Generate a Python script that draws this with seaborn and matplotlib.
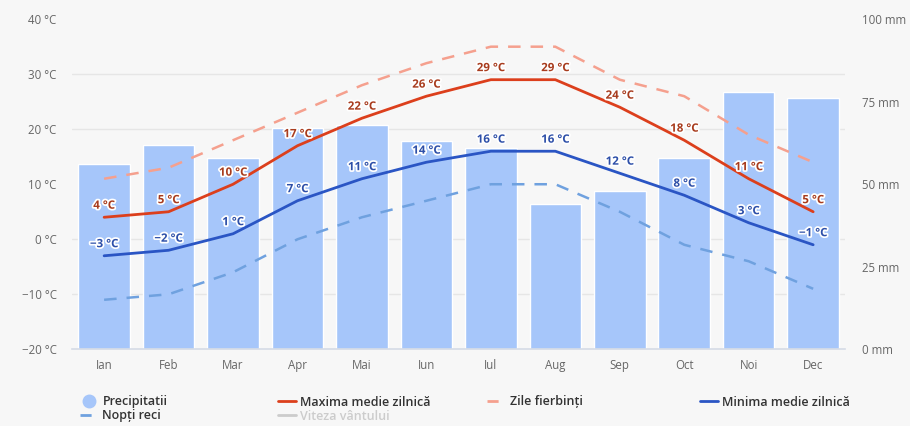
import numpy as np
import pandas as pd
import seaborn as sns
import matplotlib.pyplot as plt
from matplotlib.lines import Line2D
from matplotlib.ticker import FixedLocator

# data
months = ['Ian', 'Feb', 'Mar', 'Apr', 'Mai', 'Iun', 'Iul', 'Aug', 'Sep', 'Oct', 'Noi', 'Dec']
precip_mm = [56, 62, 58, 67, 68, 63, 61, 44, 48, 58, 78, 76]
temp_max = [4, 5, 10, 17, 22, 26, 29, 29, 24, 18, 11, 5]
temp_min = [-3, -2, 1, 7, 11, 14, 16, 16, 12, 8, 3, -1]
hot_days = [11, 13, 18, 23, 28, 32, 35, 35, 29, 26, 19, 14]
cold_nights = [-11, -10, -6, 0, 4, 7, 10, 10, 5, -1, -4, -9]
temp_ticks = [-20, -10, 0, 10, 20, 30, 40]
mm_ticks = [0, 25, 50, 75, 100]

BG = '#f7f7f7'
BAR = '#a6c6fa'
RED = '#dc3f1c'
BLUE = '#2a55c4'
SALMON = '#f5a08e'
LBLUE = '#6fa1df'
GREY = '#666666'

sns.set_style('white')
plt.rcParams['font.family'] = ['Open Sans', 'DejaVu Sans']

df = pd.DataFrame({'month': months, 'pos': np.arange(len(months)),
                   'precip': precip_mm, 'tmax': temp_max, 'tmin': temp_min,
                   'hot': hot_days, 'cold': cold_nights})

fig = plt.figure(figsize=(9.1, 4.26), dpi=100, facecolor=BG)
ax = fig.add_axes([0.079, 0.18, 0.85, 0.775])
ax2 = ax.twinx()
ax2.set_zorder(ax.get_zorder() - 1)
ax.patch.set_visible(False)
ax2.patch.set_visible(False)

# precipitation bars on the mm axis (behind)
sns.barplot(data=df, x='pos', y='precip', ax=ax2, color=BAR, width=0.8,
            saturation=1, zorder=2)
ax2.set_ylim(0, 100)
ax2.yaxis.set_major_locator(FixedLocator(mm_ticks))
ax2.set_yticklabels([f'{v} mm' for v in mm_ticks])
# horizontal grid at every 10 °C, drawn under the bars
ax2.yaxis.set_minor_locator(FixedLocator(np.linspace(0, 100, len(temp_ticks))))
ax2.grid(which='minor', axis='y', color='#e6e6e6', lw=1, zorder=0)
ax2.set_axisbelow(True)
ax2.tick_params(axis='y', which='both', length=0, pad=12, labelsize=8.3, labelcolor=GREY)
ax2.set_ylabel('')
ax2.set_xlabel('')

# temperature lines
sns.lineplot(data=df, x='pos', y='cold', ax=ax, color=LBLUE, lw=1.8, ls=(0, (5, 4)))
sns.lineplot(data=df, x='pos', y='hot', ax=ax, color=SALMON, lw=1.8, ls=(0, (5, 4)))
sns.lineplot(data=df, x='pos', y='tmin', ax=ax, color=BLUE, lw=2)
sns.lineplot(data=df, x='pos', y='tmax', ax=ax, color=RED, lw=2)

stroke = [__import__('matplotlib.patheffects', fromlist=['x']).withStroke(linewidth=2.5, foreground='white')]
for i in range(len(months)):
    ax.annotate(f'{temp_max[i]} °C'.replace('-', '\u2212'), (i, temp_max[i]),
                xytext=(0, 4), textcoords='offset points', ha='center', va='bottom',
                fontsize=8.3, fontweight='bold', color='#a83c1e', path_effects=stroke)
    ax.annotate(f'{temp_min[i]} °C'.replace('-', '\u2212'), (i, temp_min[i]),
                xytext=(0, 4), textcoords='offset points', ha='center', va='bottom',
                fontsize=8.3, fontweight='bold', color='#2d4fa8', path_effects=stroke)

ax.set_ylim(-20, 40)
ax.set_xlim(-0.5, len(months) - 0.5)
ax.set_yticks(temp_ticks)
ax.set_yticklabels([f'{t} °C'.replace('-', '\u2212') for t in temp_ticks])
ax.set_xticks(np.arange(len(months)))
ax.set_xticklabels(months)
ax.tick_params(axis='y', length=0, pad=11, labelsize=8.3, labelcolor=GREY)
ax.tick_params(axis='x', length=0, pad=7, labelsize=8.3, labelcolor=GREY)
ax.set_xlabel('')
ax.set_ylabel('')
for a in (ax, ax2):
    for s in a.spines.values():
        s.set_visible(False)
ax2.spines['bottom'].set_visible(True)
ax2.spines['bottom'].set_color('#d5dbe6')
ax2.spines['bottom'].set_linewidth(1.2)

# legend, laid out like the original in two rows
items = [
    (Line2D([], [], marker='o', ls='none', ms=9, color=BAR), 'Precipitatii', 80, 402, '#333333'),
    (Line2D([], [], color=RED, lw=2), 'Maxima medie zilnică', 278, 402, '#333333'),
    (Line2D([], [], color=SALMON, lw=2, ls=(0, (4, 3))), 'Zile fierbinți', 487, 402, '#333333'),
    (Line2D([], [], color=BLUE, lw=2), 'Minima medie zilnică', 700, 402, '#333333'),
    (Line2D([], [], color=LBLUE, lw=2, ls=(0, (4, 3))), 'Nopți reci', 80, 416, '#333333'),
    (Line2D([], [], color='#cccccc', lw=2), 'Viteza vântului', 278, 416, '#cccccc'),
]
for h, lab, x0, y0, tc in items:
    leg = fig.legend(handles=[h], labels=[lab], loc='center left',
                     bbox_to_anchor=(x0 / 910, 1 - y0 / 426), frameon=False,
                     handlelength=1.4, handletextpad=0.4, borderpad=0, borderaxespad=0,
                     prop={'size': 9, 'weight': 'semibold'})
    for t in leg.get_texts():
        t.set_color(tc)

fig.savefig('out.png', dpi=100, facecolor=BG)
